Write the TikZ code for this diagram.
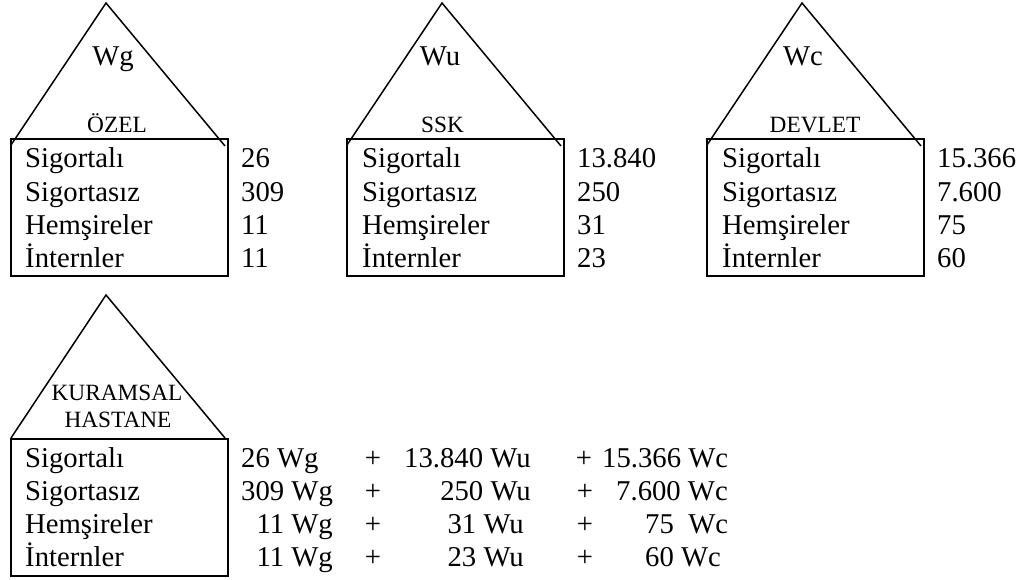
\documentclass[tikz,border=0pt]{standalone}
\usepackage{fontspec}
\setmainfont{Liberation Serif}
\begin{document}
\begin{tikzpicture}[x=1pt,y=-1pt,
  tri/.style={line width=1.5pt},
  boxnode/.style={draw, line width=2pt, inner sep=0pt, minimum width=217pt, minimum height=137pt, anchor=north west},
  txt/.style={font=\fontsize{28.7}{34}\selectfont, inner sep=0pt},
  lbl/.style={font=\fontsize{23.3}{28}\selectfont, inner sep=0pt}]
\useasboundingbox (0,0) rectangle (1030,580);
% boxes
\node[boxnode] (b1) at (10,138) {};
\node[boxnode] (b2) at (346,138) {};
\node[boxnode] (b3) at (706,138) {};
\node[boxnode] (b4) at (10,438) {};
% triangles
\coordinate (a1) at (106,3); \coordinate (l1) at (11,145); \coordinate (r1) at (225,146);
\coordinate (a2) at (442,3); \coordinate (l2) at (347,145); \coordinate (r2) at (561,146);
\coordinate (a3) at (802,3); \coordinate (l3) at (707,145); \coordinate (r3) at (921,146);
\coordinate (a4) at (106,295); \coordinate (l4) at (11,438); \coordinate (r4) at (225,438);
\draw[tri] (l1) -- (a1) -- (r1);
\draw[tri] (l2) -- (a2) -- (r2);
\draw[tri] (l3) -- (a3) -- (r3);
\draw[tri] (l4) -- (a4) -- (r4);
% roof texts
\node[txt, anchor=base] (wg) at (113,66) {Wg};
\node[txt, anchor=base] (wu) at (440,66) {Wu};
\node[txt, anchor=base] (wc) at (803,66) {Wc};
\node[lbl, anchor=base] (ozel) at (117,133) {ÖZEL};
\node[lbl, anchor=base] (ssk) at (442.5,133) {SSK};
\node[lbl, anchor=base] (devlet) at (815,133) {DEVLET};
\node[lbl, anchor=base] (kur) at (117,400) {KURAMSAL};
\node[lbl, anchor=base] (has) at (118,427) {HASTANE};
% box 1
\node[txt, anchor=base west] (s1a) at (25,168) {Sigortalı};
\node[txt, anchor=base west] (s1b) at (25,201) {Sigortasız};
\node[txt, anchor=base west] (s1c) at (25,234) {Hemşireler};
\node[txt, anchor=base west] (s1d) at (25,267) {İnternler};
\node[txt, anchor=base west] (n1a) at (241,168) {26};
\node[txt, anchor=base west] (n1b) at (241,201) {309};
\node[txt, anchor=base west] (n1c) at (241,234) {11};
\node[txt, anchor=base west] (n1d) at (241,267) {11};
% box 2
\node[txt, anchor=base west] (s2a) at (362,168) {Sigortalı};
\node[txt, anchor=base west] (s2b) at (362,201) {Sigortasız};
\node[txt, anchor=base west] (s2c) at (362,234) {Hemşireler};
\node[txt, anchor=base west] (s2d) at (362,267) {İnternler};
\node[txt, anchor=base west] (n2a) at (577,168) {13.840};
\node[txt, anchor=base west] (n2b) at (577,201) {250};
\node[txt, anchor=base west] (n2c) at (577,234) {31};
\node[txt, anchor=base west] (n2d) at (577,267) {23};
% box 3
\node[txt, anchor=base west] (s3a) at (722,168) {Sigortalı};
\node[txt, anchor=base west] (s3b) at (722,201) {Sigortasız};
\node[txt, anchor=base west] (s3c) at (722,234) {Hemşireler};
\node[txt, anchor=base west] (s3d) at (722,267) {İnternler};
\node[txt, anchor=base west] (n3a) at (937,168) {15.366};
\node[txt, anchor=base west] (n3b) at (937,201) {7.600};
\node[txt, anchor=base west] (n3c) at (937,234) {75};
\node[txt, anchor=base west] (n3d) at (937,267) {60};
% box 4
\node[txt, anchor=base west] (s4a) at (25,467) {Sigortalı};
\node[txt, anchor=base west] (s4b) at (25,500) {Sigortasız};
\node[txt, anchor=base west] (s4c) at (25,533) {Hemşireler};
\node[txt, anchor=base west] (s4d) at (25,566) {İnternler};
% equations
\node[txt, anchor=base west] (g1) at (241,467) {26 Wg};
\node[txt, anchor=base west] (g2) at (241,500) {309 Wg};
\node[txt, anchor=base east] (g3) at (333,533) {11 Wg};
\node[txt, anchor=base east] (g4) at (333,566) {11 Wg};
\node[txt, anchor=base] (p1a) at (373,467) {+};
\node[txt, anchor=base] (p1b) at (373,500) {+};
\node[txt, anchor=base] (p1c) at (373,533) {+};
\node[txt, anchor=base] (p1d) at (373,566) {+};
\node[txt, anchor=base west] (u1) at (404,467) {13.840 Wu};
\node[txt, anchor=base east] (u2) at (531,500) {250 Wu};
\node[txt, anchor=base east] (u3) at (524,533) {31 Wu};
\node[txt, anchor=base east] (u4) at (524,566) {23 Wu};
\node[txt, anchor=base] (p2a) at (584,467) {+};
\node[txt, anchor=base] (p2b) at (585,500) {+};
\node[txt, anchor=base] (p2c) at (585,533) {+};
\node[txt, anchor=base] (p2d) at (585,566) {+};
\node[txt, anchor=base west] (c1) at (602,467) {15.366 Wc};
\node[txt, anchor=base east] (c2) at (728,500) {7.600 Wc};
\node[txt, anchor=base west] (c3) at (645,533) {75\ \ Wc};
\node[txt, anchor=base west] (c4) at (645,566) {60 Wc};
\end{tikzpicture}
\end{document}
